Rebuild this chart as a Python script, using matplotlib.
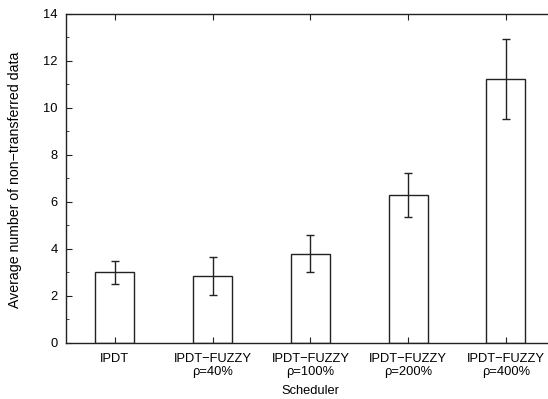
import matplotlib
matplotlib.use("Agg")
import matplotlib.pyplot as plt
import numpy as np

schedulers = ["IPDT", "IPDT\u2212FUZZY\n\u03c1=40%", "IPDT\u2212FUZZY\n\u03c1=100%",
              "IPDT\u2212FUZZY\n\u03c1=200%", "IPDT\u2212FUZZY\n\u03c1=400%"]
mean_untransferred = [3.0, 2.84, 3.8, 6.29, 11.25]
error_half = [0.48, 0.80, 0.80, 0.94, 1.70]

plt.rcParams['font.family'] = ['Liberation Sans', 'DejaVu Sans']
plt.rcParams['font.size'] = 9.3

fig = plt.figure(figsize=(5.48, 3.99), dpi=100)
ax = fig.add_axes([0.1204, 0.1404, 0.892, 0.8246])

x = np.arange(len(schedulers))
ax.bar(x, mean_untransferred, width=0.4, facecolor='white', edgecolor='#222222', linewidth=1.0)
ax.errorbar(x, mean_untransferred, yerr=error_half, fmt='none', ecolor='#222222',
            elinewidth=1.0, capsize=3, capthick=1.0)

ax.set_xlim(-0.5, 4.5)
ax.set_ylim(0, 14)
ax.set_xticks(x)
ax.set_xticklabels(schedulers, linespacing=1.1)
ax.set_yticks(np.arange(0, 15, 2))
ax.set_yticks(np.arange(0, 15, 1), minor=True)
ax.tick_params(axis='both', which='both', direction='in', top=True, right=True, color='#222222')
ax.tick_params(axis='both', which='major', length=4)
ax.tick_params(axis='x', which='major', pad=7)
ax.tick_params(axis='y', which='major', pad=6)
ax.tick_params(axis='y', which='minor', length=2)
ax.tick_params(axis='x', which='minor', bottom=False, top=False)
for s in ax.spines.values():
    s.set_linewidth(1.0)
    s.set_color('#222222')

fig.text(310.5 / 548, 1 - 391 / 399, "Scheduler", ha='center', va='center', fontsize=9.3)
fig.text(15 / 548, 1 - 180 / 399, "Average number of non\u2212transferred data",
         ha='center', va='center', rotation=90, fontsize=10.2)

fig.savefig("out.png", dpi=100)
